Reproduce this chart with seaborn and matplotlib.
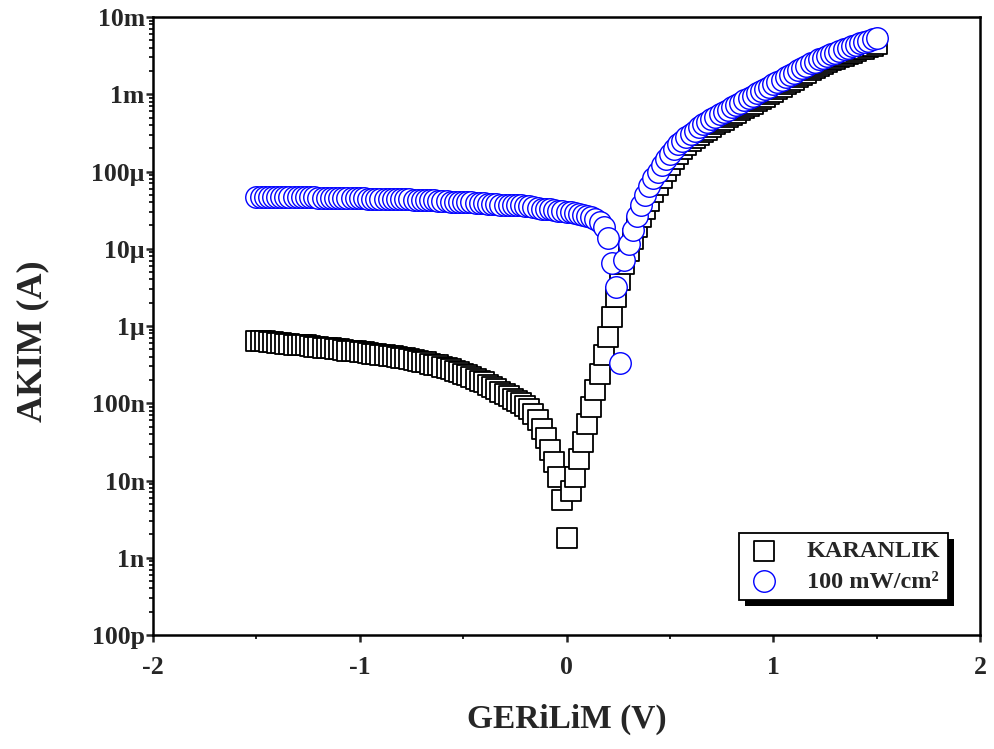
import numpy as np
import pandas as pd
import matplotlib
matplotlib.use("Agg")
import matplotlib.pyplot as plt
from matplotlib.patches import Rectangle
from matplotlib.ticker import MultipleLocator, LogLocator, NullFormatter
import seaborn as sns

sns.set_style("ticks")
plt.rcParams['font.family'] = ['Liberation Serif', 'DejaVu Serif']
plt.rcParams['font.weight'] = 'bold'

# voltage sweep (V)
voltage = [
    -1.50, -1.48, -1.46, -1.44, -1.42, -1.40, -1.38, -1.36, -1.34, -1.32,
    -1.30, -1.28, -1.26, -1.24, -1.22, -1.20, -1.18, -1.16, -1.14, -1.12,
    -1.10, -1.08, -1.06, -1.04, -1.02, -1.00, -0.98, -0.96, -0.94, -0.92,
    -0.90, -0.88, -0.86, -0.84, -0.82, -0.80, -0.78, -0.76, -0.74, -0.72,
    -0.70, -0.68, -0.66, -0.64, -0.62, -0.60, -0.58, -0.56, -0.54, -0.52,
    -0.50, -0.48, -0.46, -0.44, -0.42, -0.40, -0.38, -0.36, -0.34, -0.32,
    -0.30, -0.28, -0.26, -0.24, -0.22, -0.20, -0.18, -0.16, -0.14, -0.12,
    -0.10, -0.08, -0.06, -0.04, -0.02, 0.00, 0.02, 0.04, 0.06, 0.08,
    0.10, 0.12, 0.14, 0.16, 0.18, 0.20, 0.22, 0.24, 0.26, 0.28,
    0.30, 0.32, 0.34, 0.36, 0.38, 0.40, 0.42, 0.44, 0.46, 0.48,
    0.50, 0.52, 0.54, 0.56, 0.58, 0.60, 0.62, 0.64, 0.66, 0.68,
    0.70, 0.72, 0.74, 0.76, 0.78, 0.80, 0.82, 0.84, 0.86, 0.88,
    0.90, 0.92, 0.94, 0.96, 0.98, 1.00, 1.02, 1.04, 1.06, 1.08,
    1.10, 1.12, 1.14, 1.16, 1.18, 1.20, 1.22, 1.24, 1.26, 1.28,
    1.30, 1.32, 1.34, 1.36, 1.38, 1.40, 1.42, 1.44, 1.46, 1.48,
    1.50,
]

# log10 of current (A), dark
dark_log10 = [
    -6.19, -6.20, -6.20, -6.21, -6.21, -6.22, -6.22, -6.23, -6.23, -6.24,
    -6.24, -6.25, -6.25, -6.26, -6.27, -6.27, -6.28, -6.28, -6.29, -6.30,
    -6.30, -6.31, -6.32, -6.32, -6.33, -6.34, -6.34, -6.35, -6.36, -6.36,
    -6.37, -6.38, -6.39, -6.39, -6.40, -6.41, -6.42, -6.43, -6.44, -6.45,
    -6.46, -6.47, -6.49, -6.50, -6.51, -6.53, -6.54, -6.56, -6.58, -6.60,
    -6.62, -6.64, -6.66, -6.68, -6.71, -6.73, -6.76, -6.79, -6.82, -6.85,
    -6.88, -6.91, -6.94, -6.97, -7.00, -7.03, -7.07, -7.14, -7.22, -7.33,
    -7.45, -7.60, -7.76, -7.95, -8.25, -8.74, -8.14, -7.95, -7.72, -7.50,
    -7.27, -7.05, -6.83, -6.62, -6.38, -6.14, -5.88, -5.62, -5.40, -5.20,
    -5.03, -4.87, -4.72, -4.59, -4.48, -4.38, -4.27, -4.17, -4.08, -3.99,
    -3.91, -3.84, -3.77, -3.71, -3.66, -3.61, -3.57, -3.53, -3.49, -3.46,
    -3.42, -3.39, -3.36, -3.33, -3.30, -3.27, -3.24, -3.21, -3.18, -3.15,
    -3.12, -3.09, -3.06, -3.03, -3.00, -2.97, -2.93, -2.90, -2.87, -2.84,
    -2.81, -2.78, -2.75, -2.72, -2.69, -2.66, -2.63, -2.61, -2.58, -2.56,
    -2.54, -2.52, -2.50, -2.48, -2.46, -2.44, -2.42, -2.41, -2.39, -2.37,
    -2.35,
]

# log10 of current (A), 100 mW/cm2 illumination
light_log10 = [
    -4.33, -4.33, -4.33, -4.33, -4.33, -4.33, -4.33, -4.33, -4.33, -4.33,
    -4.33, -4.33, -4.33, -4.33, -4.33, -4.34, -4.34, -4.34, -4.34, -4.34,
    -4.34, -4.34, -4.34, -4.34, -4.34, -4.34, -4.34, -4.35, -4.35, -4.35,
    -4.35, -4.35, -4.35, -4.36, -4.36, -4.36, -4.36, -4.36, -4.37, -4.37,
    -4.37, -4.37, -4.37, -4.37, -4.38, -4.38, -4.38, -4.39, -4.39, -4.39,
    -4.40, -4.40, -4.40, -4.41, -4.41, -4.41, -4.42, -4.42, -4.42, -4.43,
    -4.43, -4.43, -4.44, -4.44, -4.44, -4.45, -4.45, -4.46, -4.47, -4.48,
    -4.49, -4.49, -4.50, -4.51, -4.51, -4.52, -4.53, -4.54, -4.55, -4.56,
    -4.57, -4.59, -4.61, -4.65, -4.72, -4.86, -5.18, -5.50, -6.48, -5.15,
    -4.94, -4.76, -4.58, -4.43, -4.30, -4.19, -4.09, -4.00, -3.92, -3.84,
    -3.77, -3.71, -3.65, -3.60, -3.55, -3.51, -3.47, -3.43, -3.39, -3.36,
    -3.32, -3.29, -3.26, -3.23, -3.20, -3.17, -3.14, -3.11, -3.08, -3.05,
    -3.02, -2.99, -2.96, -2.93, -2.90, -2.87, -2.84, -2.81, -2.78, -2.75,
    -2.72, -2.69, -2.66, -2.63, -2.60, -2.58, -2.55, -2.53, -2.50, -2.48,
    -2.46, -2.44, -2.42, -2.40, -2.38, -2.36, -2.34, -2.33, -2.31, -2.29,
    -2.27,
]

series_names = ['KARANLIK', '100 mW/cm\u00b2']
ytick_values = [1e-10, 1e-9, 1e-8, 1e-7, 1e-6, 1e-5, 1e-4, 1e-3, 1e-2]
ytick_labels = ['100p', '1n', '10n', '100n', '1\u00b5', '10\u00b5', '100\u00b5', '1m', '10m']
xtick_values = [-2, -1, 0, 1, 2]

dark = pd.DataFrame({'V': voltage, 'I': 10 ** np.array(dark_log10)})
light = pd.DataFrame({'V': voltage, 'I': 10 ** np.array(light_log10)})

fig = plt.figure(figsize=(9.95, 7.49), dpi=100)
ax = fig.add_axes([0.1538, 0.1522, 0.8312, 0.8251])

sns.scatterplot(data=dark, x='V', y='I', marker='s', s=200, color='white',
                edgecolor='black', linewidth=1.3, label=series_names[0], ax=ax, zorder=3)
sns.scatterplot(data=light, x='V', y='I', marker='o', s=240, color='white',
                edgecolor='#0000ff', linewidth=1.0, label=series_names[1], ax=ax, zorder=4)

ax.set_yscale('log')
ax.set_xlim(-2, 2)
ax.set_ylim(1e-10, 1e-2)
ax.set_xticks(xtick_values)
ax.set_xticklabels([str(v) for v in xtick_values])
ax.xaxis.set_minor_locator(MultipleLocator(0.5))
ax.set_yticks(ytick_values)
ax.set_yticklabels(ytick_labels)
ax.yaxis.set_minor_locator(LogLocator(base=10, subs=np.arange(2, 10), numticks=20))
ax.yaxis.set_minor_formatter(NullFormatter())

for sp in ax.spines.values():
    sp.set_linewidth(1.8)
    sp.set_color('black')
ax.tick_params(which='major', direction='out', length=5, width=1.8,
               labelsize=18.5, top=False, right=False)
ax.tick_params(axis='x', which='major', pad=10)
ax.tick_params(axis='y', which='major', pad=1)
ax.tick_params(which='minor', direction='out', length=3, width=1.4, top=False, right=False)
for lab in ax.get_xticklabels() + ax.get_yticklabels():
    lab.set_fontweight('bold')

ax.set_xlabel('GERiLiM (V)', fontsize=24, fontweight='bold', labelpad=18)
ax.set_ylabel('AKIM (A)', fontsize=26, fontweight='bold')
ax.yaxis.set_label_coords(-0.125, 0.475)

leg = ax.legend(loc='upper right', bbox_to_anchor=(0.961, 0.165), fancybox=False,
                framealpha=1, edgecolor='black', prop={'size': 17.5, 'weight': 'bold'},
                borderpad=0.3, handletextpad=1.0, labelspacing=0.35, handlelength=1.5,
                borderaxespad=0)
leg.get_frame().set_linewidth(1.3)
leg.set_zorder(10)

# solid black drop shadow behind the legend box
fig.canvas.draw()
bb = leg.get_window_extent(fig.canvas.get_renderer())
shadow = Rectangle((bb.x0 + 6, bb.y0 - 6), bb.width, bb.height, transform=None,
                   facecolor='black', edgecolor='none', zorder=9.5)
ax.add_artist(shadow)
shadow.set_clip_on(False)

fig.savefig('out.png', dpi=100)
